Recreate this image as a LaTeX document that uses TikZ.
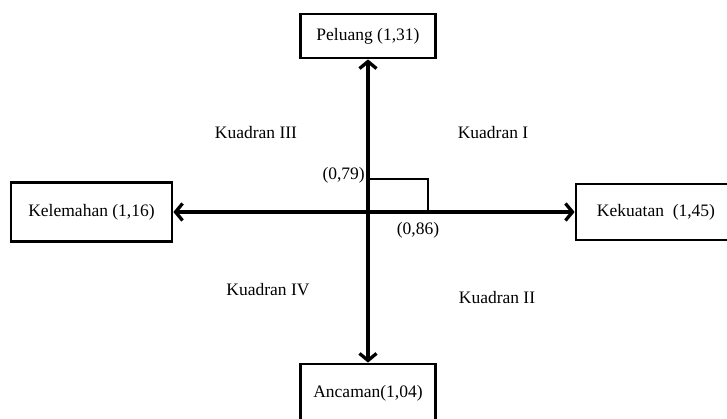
\documentclass[tikz,border=0pt]{standalone}
\usepackage{fontspec}
\setmainfont{Liberation Serif}
\usetikzlibrary{arrows.meta, positioning}

\begin{document}
\begin{tikzpicture}[x=1pt, y=1pt]
    \tikzset{BoxStyle/.style = {draw=black, line width=2.8pt, fill=white, inner sep=0pt, font=\fontsize{17.5}{20}\selectfont}}
    \tikzset{AxisStyle/.style = {line width=3.3pt, -{Straight Barb[length=7pt, width=17pt]}}}
    \tikzset{TextStyle/.style = {inner sep=0pt, font=\fontsize{17.5}{20}\selectfont}}
    \useasboundingbox (0,0) rectangle (727,419);
    \clip (0,0) rectangle (727,419);
    \coordinate (O) at (368,207);
    \node[BoxStyle, minimum width=135pt, minimum height=44pt](Peluang) at (368,383){Peluang (1,31)};
    \node[BoxStyle, minimum width=135pt, minimum height=58pt](Ancaman) at (368,26){Ancaman(1,04)};
    \node[BoxStyle, minimum width=161pt, minimum height=59pt](Kelemahan) at (91.5,207){Kelemahan (1,16)};
    \node[BoxStyle, minimum width=160pt, minimum height=56pt](Kekuatan) at (656,207){Kekuatan\ \ (1,45)};
    \draw[AxisStyle](O) -- (Peluang);
    \draw[AxisStyle](O) -- (Ancaman);
    \draw[AxisStyle](O) -- (Kelemahan);
    \draw[AxisStyle](O) -- (Kekuatan);

    \coordinate (P) at (428,240);
    \draw[line width=1.6pt](O |- P) -- (P) -- (P |- O);
    \node[TextStyle, anchor=east](Y) at (365,244){(0,79)};
    \node[TextStyle](X) at (418,189){(0,86)};

    \node[TextStyle](K3) at (256,286){Kuadran III};
    \node[TextStyle](K1) at (493,286){Kuadran I};
    \node[TextStyle](K4) at (268,129){Kuadran IV};
    \node[TextStyle](K2) at (497,121){Kuadran II};
\end{tikzpicture}
\end{document}
